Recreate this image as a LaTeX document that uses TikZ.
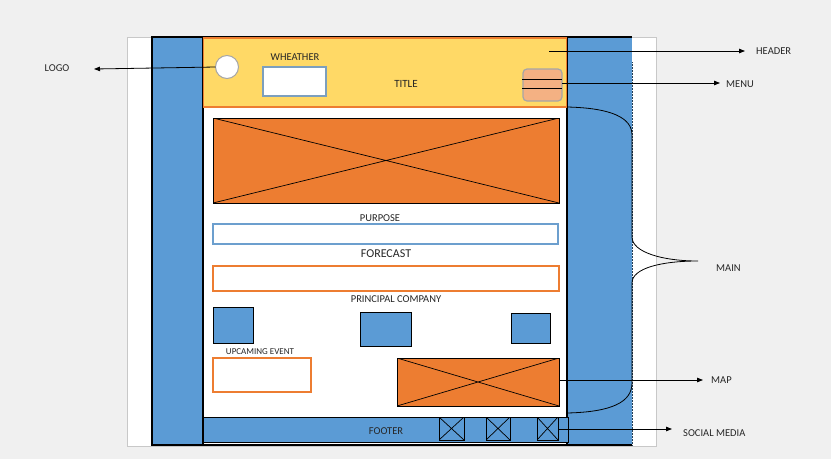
\documentclass[tikz,border=0pt]{standalone}
\usepackage{fontspec}
\setmainfont{Carlito}
\usetikzlibrary{arrows.meta}

\definecolor{canvas}{HTML}{F0F0F0}
\definecolor{pageedge}{HTML}{C8C8C8}
\definecolor{colblue}{HTML}{5B9BD5}
\definecolor{hdryellow}{HTML}{FFD966}
\definecolor{imgorange}{HTML}{ED7D31}
\definecolor{menufill}{HTML}{F4B183}
\definecolor{boxblue}{HTML}{6C9FCE}
\definecolor{wxblue}{HTML}{7C9FBE}
\definecolor{softgray}{HTML}{A6A6A6}

\tikzset{
  blk/.style={draw=black, line width=1.1pt, inner sep=0pt, outer sep=0pt},
  bluebox/.style={blk, fill=colblue, line width=0.8pt},
  crossed/.style={draw=black, line width=0.8pt, inner sep=0pt, outer sep=0pt,
    path picture={
      \draw[black, line width=0.7pt]
        (path picture bounding box.north west) -- (path picture bounding box.south east)
        (path picture bounding box.south west) -- (path picture bounding box.north east);
    }},
  imagebox/.style={crossed, fill=imgorange},
  iconbox/.style={crossed, fill=colblue},
  fieldbox/.style={draw=#1, line width=1.4pt, fill=white, inner sep=0pt, outer sep=0pt},
  lbl/.style={inner sep=0pt, font=\fontsize{10.5}{12}\selectfont, text=black!85},
  callout/.style={draw=black, line width=0.8pt, -{Triangle[length=6pt,width=4.5pt]}},
}

\begin{document}
\begin{tikzpicture}[x=1pt, y=-1pt]
  % canvas
  \fill[canvas] (0,0) rectangle (831,459);
  \useasboundingbox (0,0) rectangle (831,459);

  % page sheet
  \node[draw=pageedge, fill=white, line width=0.8pt, minimum width=529pt, minimum height=409pt, inner sep=0pt] (page) at (391.5,241.5) {};

  % side columns
  \node[bluebox, line width=1.1pt, minimum width=51pt, minimum height=408pt] (leftcol) at (177.5,241) {};
  \node[fill=colblue, minimum width=65pt, minimum height=408pt, inner sep=0pt, outer sep=0pt] (rightcol) at (599.5,241) {};
  \draw[black, line width=1.1pt] (rightcol.north west) -- (rightcol.north east)
        (rightcol.south west) -- (rightcol.south east);
  \draw[densely dotted, line width=0.5pt, colblue!40!black] (rightcol.east |- 0,62) -- (rightcol.south east);

  % content column
  \node[blk, fill=white, minimum width=364pt, minimum height=408pt] (content) at (385,241) {};

  % header bar
  \node[draw=imgorange, fill=hdryellow, line width=1.2pt, minimum width=363pt, minimum height=69pt, inner sep=0pt] (header) at (385,72.5) {};
  \node[circle, draw=softgray, fill=white, line width=1pt, minimum size=23pt, inner sep=0pt, outer sep=0pt] (logo) at (227,67) {};
  \node[lbl] (wxlabel) at (295,57) {WHEATHER};
  \node[fieldbox=wxblue, line width=1.3pt, minimum width=63pt, minimum height=29pt] (wxbox) at (294.5,81.5) {};
  \node[lbl, font=\fontsize{11}{13}\selectfont] (title) at (406,84) {TITLE};
  \node[draw=softgray, fill=menufill, line width=1.2pt, rounded corners=4pt, minimum width=39pt, minimum height=32pt, inner sep=0pt, outer sep=0pt] (menu) at (542.5,85) {};
  \draw[black, line width=0.7pt] ([xshift=-1pt,yshift=6pt]menu.west) -- ([yshift=6pt]menu.east)
        ([xshift=-1pt,yshift=-3pt]menu.west) -- ([yshift=-3pt]menu.east);

  % hero image
  \node[imagebox, minimum width=346pt, minimum height=85pt] (hero) at (386,160.5) {};

  % purpose / forecast fields
  \node[lbl] (purposelbl) at (380,218) {PURPOSE};
  \node[fieldbox=boxblue, minimum width=345pt, minimum height=20pt] (purpose) at (385.5,234) {};
  \node[lbl, font=\fontsize{12}{14}\selectfont] (forecastlbl) at (386,254) {FORECAST};
  \node[fieldbox=imgorange, minimum width=346pt, minimum height=25pt] (forecast) at (386,278.5) {};

  % principal company tiles
  \node[lbl] (companylbl) at (396,299) {PRINCIPAL COMPANY};
  \node[bluebox, minimum width=40pt, minimum height=36pt] (comp1) at (233,325) {};
  \node[bluebox, minimum width=51pt, minimum height=34pt] (comp2) at (385.5,329) {};
  \node[bluebox, minimum width=39pt, minimum height=30pt] (comp3) at (530.5,328) {};

  % upcoming event and map
  \node[lbl, font=\fontsize{9}{10}\selectfont] (eventlbl) at (260,352) {UPCAMING EVENT};
  \node[fieldbox=imgorange, line width=1.2pt, minimum width=98pt, minimum height=34pt] (event) at (262,375) {};
  \node[imagebox, minimum width=162pt, minimum height=48pt] (map) at (478,382) {};

  % footer with social icons
  \node[bluebox, minimum width=365pt, minimum height=25pt] (footer) at (385.5,429.5) {};
  \node[lbl] (footerlbl) at (386,431) {FOOTER};
  \node[iconbox, minimum width=25pt, minimum height=23pt] (social1) at (451.5,428.5) {};
  \node[iconbox, minimum width=24pt, minimum height=23pt] (social2) at (498,428.5) {};
  \node[iconbox, minimum width=21pt, minimum height=23pt] (social3) at (547.5,428.5) {};

  % callout labels
  \node[lbl] (logolbl) at (57,68) {LOGO};
  \node[lbl, anchor=west] (headerlbl) at (756,51) {HEADER};
  \node[lbl, anchor=west] (menulbl) at (726,84) {MENU};
  \node[lbl, anchor=west] (mainlbl) at (716,268) {MAIN};
  \node[lbl, anchor=west] (maplbl) at (711,380) {MAP};
  \node[lbl, anchor=west] (sociallbl) at (683,433) {SOCIAL MEDIA};

  % callout arrows
  \coordinate (logoend) at (94,69);
  \coordinate (headerstart) at (549,51);
  \coordinate (headerend) at (745,51);
  \coordinate (menuend) at (720,83);
  \coordinate (mapend) at (703,380);
  \coordinate (socialend) at (672,429);
  \draw[callout] (logo.west) -- (logoend);
  \draw[callout] (headerstart) -- (headerend);
  \draw[callout] (menu.east |- menuend) -- (menuend);
  \draw[callout] (map.east |- mapend) -- (mapend);
  \draw[callout] (social3.east |- socialend) -- (socialend);

  % brace marking the main area
  \coordinate (bracetip) at (698,261);
  \draw[black, line width=0.8pt]
    (567,107) .. controls (612,108) and (632,118) .. (632,135)
    -- (632,237) .. controls (632,252) and (662,261) .. (bracetip)
    .. controls (662,261) and (632,268) .. (632,283)
    -- (632,383) .. controls (632,402) and (612,412) .. (567,413);
\end{tikzpicture}
\end{document}
